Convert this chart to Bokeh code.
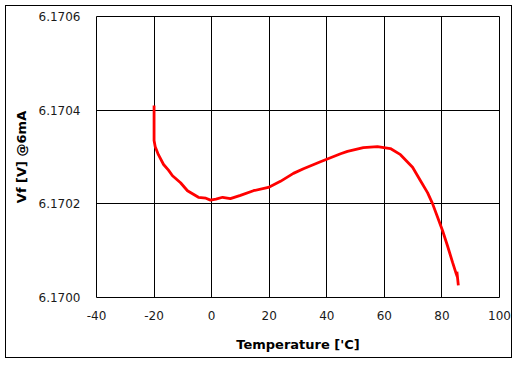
from bokeh.plotting import figure
from bokeh.models import FixedTicker, PrintfTickFormatter, Range1d
from bokeh.embed import file_html
from bokeh.resources import INLINE

temperature = [-20.0, -20.0, -19.6, -18.5, -16.7, -15.0, -13.6, -10.8, -8.4, -6.5, -4.6, -2.0,
               -0.4, 1.5, 3.8, 6.5, 10.0, 14.5, 19.7, 23.9, 28.4, 31.9, 37.8, 44.8, 47.2,
               52.7, 57.6, 62.1, 65.6, 69.8, 72.5, 75.0, 76.7, 78.4, 80.2, 81.9, 83.7,
               85.0, 85.4, 85.2, 85.7]
vf = [6.170410, 6.170335, 6.170322, 6.170305, 6.170284, 6.170272, 6.170260, 6.170245,
      6.170228, 6.170221, 6.170214, 6.170212, 6.170208, 6.170210, 6.170214, 6.170211,
      6.170218, 6.170228, 6.170235, 6.170248, 6.170265, 6.170275, 6.170290, 6.170307,
      6.170312, 6.170320, 6.170322, 6.170318, 6.170305, 6.170278, 6.170250, 6.170224,
      6.170201, 6.170173, 6.170143, 6.170111, 6.170075, 6.170050, 6.170043, 6.170055,
      6.170026]

x_ticks = [-40, -20, 0, 20, 40, 60, 80, 100]
y_ticks = [6.1700, 6.1702, 6.1704, 6.1706]

p = figure(width=507, height=353, output_backend="svg", toolbar_location=None,
           x_range=Range1d(-40, 100), y_range=Range1d(6.1700, 6.1706),
           min_border_left=90, min_border_right=14, min_border_top=10, min_border_bottom=62)
p.styles = {"border": "1px solid black", "margin-left": "5px", "margin-top": "5px"}

p.line(temperature, vf, line_color="#FF0000", line_width=2.8)

p.outline_line_color = "black"
p.outline_line_width = 1
p.background_fill_color = "white"
p.border_fill_color = "white"

p.xaxis.ticker = FixedTicker(ticks=x_ticks)
p.yaxis.ticker = FixedTicker(ticks=y_ticks)
p.xaxis.formatter = PrintfTickFormatter(format="%d")
p.yaxis.formatter = PrintfTickFormatter(format="%.4f")

for ax in (p.xaxis, p.yaxis):
    ax.axis_line_color = None
    ax.major_tick_line_color = None
    ax.minor_tick_line_color = None
    ax.major_tick_out = 0
    ax.major_tick_in = 0
    ax.minor_tick_out = 0
    ax.minor_tick_in = 0
    ax.major_label_text_font = "DejaVu Sans"
    ax.major_label_text_font_size = "12px"
    ax.major_label_text_color = "#1a1a1a"
    ax.axis_label_text_font = "DejaVu Sans"
    ax.axis_label_text_font_size = "13px"
    ax.axis_label_text_font_style = "bold"
    ax.axis_label_text_color = "black"

p.xaxis.axis_label = "Temperature ['C]"
p.yaxis.axis_label = "Vf [V] @6mA"
p.xaxis.major_label_standoff = 13
p.yaxis.major_label_standoff = 16
p.xaxis.axis_label_standoff = 14
p.yaxis.axis_label_standoff = 7

p.xgrid.ticker = FixedTicker(ticks=x_ticks)
p.ygrid.ticker = FixedTicker(ticks=y_ticks)
p.grid.grid_line_color = "black"
p.grid.grid_line_width = 1
p.grid.grid_line_alpha = 1.0

open("out.html", "w").write(file_html(p, INLINE))
